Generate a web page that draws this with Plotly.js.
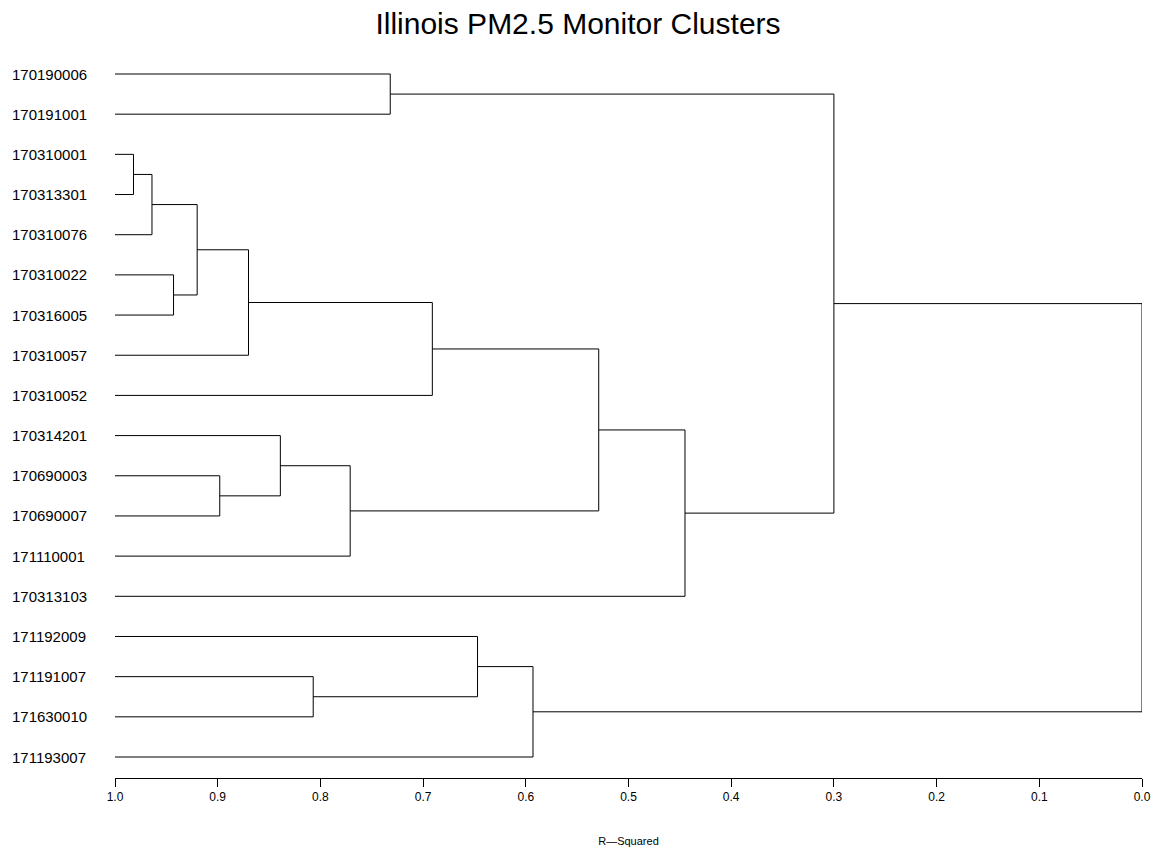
<!DOCTYPE html>
<html>
<head>
<meta charset="utf-8">
<script src="https://cdn.plot.ly/plotly-3.0.1.min.js"></script>
<style>html,body{margin:0;padding:0;background:#fff;}#chart{width:1156px;height:851px;}</style>
</head>
<body>
<div id="chart"></div>
<script>
// Leaf labels in display order (top to bottom)
var leaves = ["170190006","170191001","170310001","170313301","170310076","170310022",
  "170316005","170310057","170310052","170314201","170690003","170690007","171110001",
  "170313103","171192009","171191007","171630010","171193007"];
// Merges: node ids 0..17 are leaves, 18+ are merged clusters (in order)
var mergeLeft   = [2, 18, 5, 19, 21, 10, 9, 15, 24, 0, 22, 14, 29, 28, 31, 27, 33];
var mergeRight  = [3, 4, 6, 20, 7, 11, 23, 16, 12, 1, 8, 25, 17, 26, 13, 32, 30];
var mergeRSq    = [0.982, 0.964, 0.943, 0.920, 0.870, 0.898, 0.839, 0.807, 0.771, 0.732,
  0.691, 0.647, 0.593, 0.529, 0.445, 0.300, 0.000];
var xTicks = [1.0,0.9,0.8,0.7,0.6,0.5,0.4,0.3,0.2,0.1,0.0];

var n = leaves.length;
var nodeY = [], nodeH = [];
for (var i = 0; i < n; i++) { nodeY.push(i); nodeH.push(1.0); }
var xs = [], ys = [];
for (var m = 0; m < mergeLeft.length; m++) {
  var a = mergeLeft[m], b = mergeRight[m], h = mergeRSq[m];
  // horizontal from each child to merge height, vertical joining them
  xs.push(nodeH[a], h, h, nodeH[b], null);
  ys.push(nodeY[a], nodeY[a], nodeY[b], nodeY[b], null);
  nodeY.push((nodeY[a] + nodeY[b]) / 2);
  nodeH.push(h);
}

var font = "Liberation Sans, Arial, Helvetica, sans-serif";
var plotL = 115, plotR = 1142, W = 1156;
var ann = leaves.map(function (lab, i) {
  return {text: lab, xref: "paper", yref: "y", x: (10 - plotL) / (plotR - plotL), y: i,
    xanchor: "left", yanchor: "middle", showarrow: false,
    font: {family: font, size: 15, color: "#000"}};
});

var data = [{type: "scatter", mode: "lines", x: xs, y: ys,
  line: {color: "#000", width: 1}, hoverinfo: "skip", showlegend: false}];

var layout = {
  width: 1156, height: 851,
  margin: {l: plotL, r: W - plotR, t: 54, b: 851 - 778},
  paper_bgcolor: "#fff", plot_bgcolor: "#fff",
  title: {text: "Illinois PM2.5 Monitor Clusters", x: 0.5, xref: "container", xanchor: "center",
    y: 1 - 23 / 851, yref: "container", yanchor: "middle",
    font: {family: font, size: 30, color: "#000"}},
  xaxis: {range: [1.0, 0.0], tickvals: xTicks, tickformat: ".1f", ticks: "outside",
    ticklen: 8, tickwidth: 1, tickcolor: "#000", showline: true, linecolor: "#000", linewidth: 1,
    showgrid: false, zeroline: false, mirror: false,
    tickfont: {family: font, size: 12, color: "#000"},
    title: {text: "R\u2014Squared", standoff: 33, font: {family: font, size: 11, color: "#000"}}},
  yaxis: {range: [17 + 21 / 40.18, -20 / 40.18], showticklabels: false, ticks: "",
    showgrid: false, zeroline: false, showline: false},
  annotations: ann
};
Plotly.newPlot("chart", data, layout, {displayModeBar: false, staticPlot: true});
</script>
</body>
</html>
